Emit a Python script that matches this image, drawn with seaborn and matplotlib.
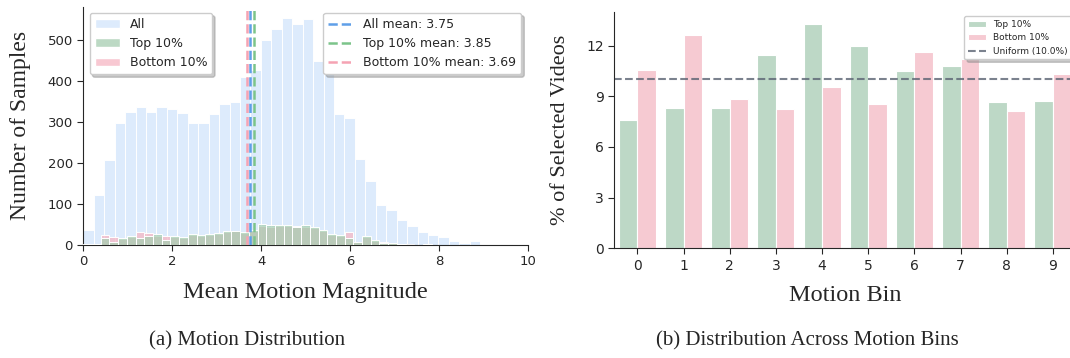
import matplotlib

matplotlib.use("Agg")
import matplotlib.pyplot as plt
import numpy as np
import pandas as pd
import seaborn as sns
from matplotlib.lines import Line2D
from matplotlib.patches import Patch

# ───────────────────────────────────────────────────────────────
# Data
# ───────────────────────────────────────────────────────────────
# (a) histogram counts, 43 bins of width ~0.235 starting at 0
all_counts = [
    36, 121, 206, 296, 324, 337, 324, 337, 331, 321,
    296, 296, 320, 342, 347, 410, 427, 498, 526, 553,
    539, 551, 447, 415, 319, 310, 209, 156, 98, 85,
    61, 46, 31, 24, 19, 10, 5, 10, 1, 1,
    2, 1, 1,
]
# top / bottom 10% counts, 51 bins of width ~0.196 starting at 0
top_counts = [
    2, 2, 16, 8, 16, 23, 18, 23, 26, 13,
    21, 19, 28, 25, 26, 29, 34, 35, 31, 36,
    50, 48, 48, 48, 44, 49, 44, 37, 26, 24,
    18, 8, 23, 12, 5, 5, 3, 1, 1, 3,
    1, 1, 1, 1, 0, 0, 0, 1, 1, 1,
    1,
]
bottom_counts = [
    3, 2, 24, 20, 14, 20, 32, 30, 22, 22,
    19, 17, 25, 23, 24, 27, 31, 33, 30, 33,
    46, 45, 47, 46, 47, 45, 41, 34, 24, 21,
    32, 7, 19, 10, 7, 4, 2, 3, 1, 2,
    1, 1, 1, 1, 0, 0, 0, 1, 1, 1,
    1,
]
all_bin_width = 0.235
sub_bin_width = 0.196
group_names = ["All", "Top 10%", "Bottom 10%"]
group_means = [3.75, 3.85, 3.69]

# (b) share of selected videos per motion bin
motion_bins = [0, 1, 2, 3, 4, 5, 6, 7, 8, 9]
top_pct = [7.59, 8.32, 8.32, 11.44, 13.29, 11.95, 10.49, 10.80, 8.64, 8.73]
bottom_pct = [10.53, 12.62, 8.83, 8.24, 9.53, 8.54, 11.62, 11.20, 8.12, 10.31]
uniform_pct = 10.0

# ───────────────────────────────────────────────────────────────
# Style
# ───────────────────────────────────────────────────────────────
sns.set_style("ticks")
plt.rcParams["font.family"] = ["DejaVu Sans"]
SERIF = "Liberation Serif"
SHADOW = {"color": "0.55", "alpha": 0.45}

C_ALL = "#ddebfc"
C_TOP = "#a3cdaf"
C_BOT = "#f5b8c5"
C_ALL_LINE = "#5f9fe8"
C_TOP_LINE = "#7cc48a"
C_BOT_LINE = "#f5a3b3"
C_TOP_BAR = "#bdd8c6"
C_BOT_BAR = "#f6cad2"

fig = plt.figure(figsize=(10.70, 3.58), dpi=100)
ax1 = fig.add_axes([0.0779, 0.3156, 0.4153, 0.6657])
ax2 = fig.add_axes([0.5741, 0.3064, 0.4315, 0.6609])

# ───────────────────────────────────────────────────────────────
# (a) Motion distribution
# ───────────────────────────────────────────────────────────────
def hist_from_counts(ax, counts, width, color, alpha, zorder):
    n = len(counts)
    centers = (np.arange(n) + 0.5) * width
    hdf = pd.DataFrame({"x": centers, "w": np.asarray(counts, dtype=float)})
    sns.histplot(
        data=hdf, x="x", weights="w", binwidth=width, binrange=(0, n * width),
        ax=ax, color=color, alpha=alpha, edgecolor="white", linewidth=0.7,
        zorder=zorder,
    )


hist_from_counts(ax1, all_counts, all_bin_width, C_ALL, 1.0, 1)
hist_from_counts(ax1, bottom_counts, sub_bin_width, C_BOT, 0.75, 2)
hist_from_counts(ax1, top_counts, sub_bin_width, C_TOP, 0.7, 3)

line_colors = [C_ALL_LINE, C_TOP_LINE, C_BOT_LINE]
for m, c in zip(group_means, line_colors):
    ax1.axvline(m, color=c, ls="--", lw=1.8, zorder=4)

ax1.set_xlim(0, 10)
ax1.set_ylim(0, 580)
ax1.set_xticks([0, 2, 4, 6, 8, 10])
ax1.set_yticks([0, 100, 200, 300, 400, 500])
ax1.tick_params(labelsize=9.5, length=4)
ax1.set_xlabel("Mean Motion Magnitude", fontsize=17.5, family=SERIF, labelpad=10)
ax1.set_ylabel("Number of Samples", fontsize=17, family=SERIF, labelpad=12)
sns.despine(ax=ax1)

hist_handles = [
    Patch(facecolor=C_ALL, label=group_names[0]),
    Patch(facecolor="#bcd9c4", label=group_names[1]),
    Patch(facecolor="#f8c8d2", label=group_names[2]),
]
leg1 = ax1.legend(handles=hist_handles, loc="upper left", fontsize=9,
                  shadow=SHADOW, borderaxespad=0.5)
ax1.add_artist(leg1)
mean_handles = [
    Line2D([0], [0], color=c, ls="--", lw=1.8, label=f"{n} mean: {m:.2f}")
    for n, m, c in zip(group_names, group_means, line_colors)
]
ax1.legend(handles=mean_handles, loc="upper right", fontsize=9, shadow=SHADOW,
           borderaxespad=0.5)

# ───────────────────────────────────────────────────────────────
# (b) Distribution across motion bins
# ───────────────────────────────────────────────────────────────
df = pd.DataFrame({
    "bin": motion_bins * 2,
    "pct": top_pct + bottom_pct,
    "group": ["Top 10%"] * len(motion_bins) + ["Bottom 10%"] * len(motion_bins),
})
sns.barplot(data=df, x="bin", y="pct", hue="group", ax=ax2,
            palette=[C_TOP_BAR, C_BOT_BAR], edgecolor="white", linewidth=0.8,
            saturation=1)
ax2.axhline(uniform_pct, color="#5a6372", ls="--", lw=1.5, alpha=0.8,
            label=f"Uniform ({uniform_pct:.1f}%)")

ax2.set_xlim(-0.5, 9.5)
ax2.set_ylim(0, 14)
ax2.set_yticks([0, 3, 6, 9, 12])
ax2.tick_params(labelsize=10, length=4)
ax2.set_xlabel("Motion Bin", fontsize=17.5, family=SERIF, labelpad=9)
ax2.set_ylabel("% of Selected Videos", fontsize=16, family=SERIF, labelpad=12)
sns.despine(ax=ax2)
ax2.legend(loc="upper right", fontsize=6.5, shadow=SHADOW, title=None)

# ───────────────────────────────────────────────────────────────
# Sub-captions
# ───────────────────────────────────────────────────────────────
fig.text(0.231, 0.047, "(a) Motion Distribution", ha="center", va="center",
         fontsize=15, family=SERIF)
fig.text(0.755, 0.047, "(b) Distribution Across Motion Bins", ha="center",
         va="center", fontsize=15, family=SERIF)

fig.savefig("out.png", dpi=100)
